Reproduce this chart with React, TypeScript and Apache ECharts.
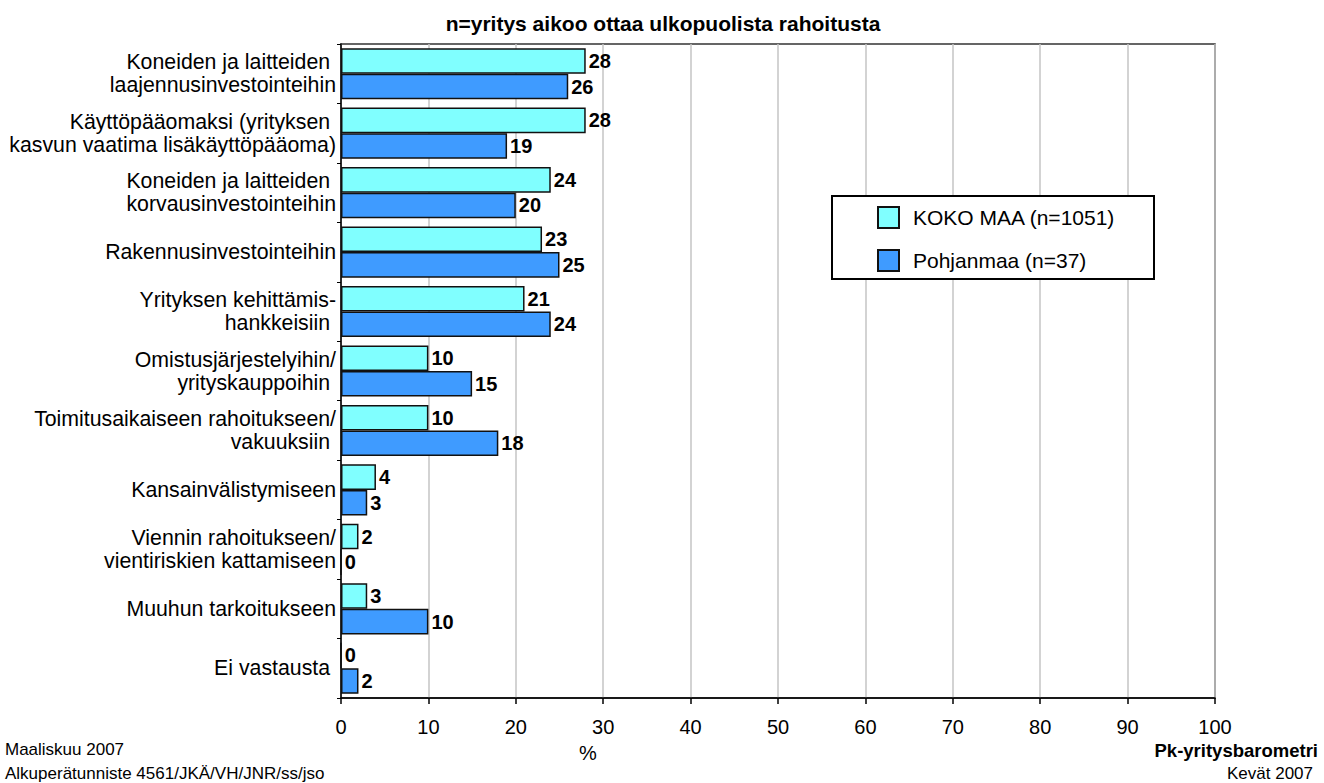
import React, { useEffect, useRef } from "react";
import * as echarts from "echarts";

const categories = [
  "Koneiden ja laitteiden \nlaajennusinvestointeihin",
  "Käyttöpääomaksi (yrityksen \nkasvun vaatima lisäkäyttöpääoma)",
  "Koneiden ja laitteiden \nkorvausinvestointeihin",
  "Rakennusinvestointeihin",
  "Yrityksen kehittämis-\nhankkeisiin ",
  "Omistusjärjestelyihin/\nyrityskauppoihin ",
  "Toimitusaikaiseen rahoitukseen/\nvakuuksiin ",
  "Kansainvälistymiseen",
  "Viennin rahoitukseen/\nvientiriskien kattamiseen",
  "Muuhun tarkoitukseen",
  "Ei vastausta ",
];
const kokoMaa = [28, 28, 24, 23, 21, 10, 10, 4, 2, 3, 0];
const pohjanmaa = [26, 19, 20, 25, 24, 15, 18, 3, 0, 10, 2];
const seriesNames = ["KOKO MAA (n=1051)", "Pohjanmaa (n=37)"];
const xTicks = [0, 10, 20, 30, 40, 50, 60, 70, 80, 90, 100];

const FONT = "Liberation Sans, Arial, sans-serif";

export default function App() {
  const ref = useRef<HTMLDivElement>(null);
  useEffect(() => {
    if (!ref.current) return;
    const chart = echarts.init(ref.current, undefined, { renderer: "svg" });
    const labelStyle = {
      show: true,
      position: "right" as const,
      distance: 3,
      color: "#000",
      fontSize: 20,
      fontWeight: "bold" as const,
      fontFamily: FONT,
    };
    chart.setOption({
      animation: false,
      textStyle: { fontFamily: FONT },
      grid: {
        left: 341,
        right: 109,
        top: 44,
        bottom: 85,
        show: true,
        borderColor: "#333",
        borderWidth: 1.5,
      },
      xAxis: {
        type: "value",
        min: xTicks[0],
        max: xTicks[xTicks.length - 1],
        interval: 10,
        axisLine: { show: true, lineStyle: { color: "#000", width: 1.5 } },
        axisTick: { show: true, length: 6, lineStyle: { color: "#000", width: 1.5 } },
        axisLabel: { color: "#000", fontSize: 20, margin: 19, fontFamily: FONT },
        splitLine: { show: true, lineStyle: { color: "#C4C4C4", width: 1.5 } },
      },
      yAxis: {
        type: "category",
        inverse: true,
        data: categories,
        axisLine: { show: true, lineStyle: { color: "#000", width: 1.5 } },
        axisTick: { show: true, length: 4, lineStyle: { color: "#000" } },
        axisLabel: {
          color: "#000",
          fontSize: 21.3,
          margin: 5,
          lineHeight: 23,
          align: "right",
          fontFamily: FONT,
        },
      },
      legend: {
        orient: "vertical",
        left: 872,
        top: 201,
        z: 10,
        itemWidth: 21,
        itemHeight: 21,
        itemGap: 20,
        icon: "rect",
        textStyle: { color: "#000", fontSize: 21, fontFamily: FONT, padding: [0, 0, 0, 9] },
        data: seriesNames,
      },
      graphic: [
        {
          type: "rect",
          shape: { x: 832, y: 196, width: 322, height: 83 },
          style: { fill: "#fff", stroke: "#000", lineWidth: 2 },
          z: 3,
        },
        {
          type: "text",
          x: 663,
          y: 23,
          style: {
            text: "n=yritys aikoo ottaa ulkopuolista rahoitusta",
            fill: "#000",
            font: `bold 21px ${FONT}`,
            align: "center",
            verticalAlign: "middle",
          },
        },
        {
          type: "text",
          x: 588,
          y: 753,
          style: { text: "%", fill: "#000", font: `20px ${FONT}`, align: "center", verticalAlign: "middle" },
        },
        {
          type: "text",
          x: 5,
          y: 749,
          style: { text: "Maaliskuu 2007", fill: "#000", font: `17px ${FONT}`, verticalAlign: "middle" },
        },
        {
          type: "text",
          x: 5,
          y: 773,
          style: {
            text: "Alkuperätunniste 4561/JKÄ/VH/JNR/ss/jso",
            fill: "#000",
            font: `17px ${FONT}`,
            verticalAlign: "middle",
          },
        },
        {
          type: "text",
          x: 1318,
          y: 750,
          style: {
            text: "Pk-yritysbarometri",
            fill: "#000",
            font: `bold 18.5px ${FONT}`,
            align: "right",
            verticalAlign: "middle",
          },
        },
        {
          type: "text",
          x: 1313,
          y: 773,
          style: { text: "Kevät 2007", fill: "#000", font: `17px ${FONT}`, align: "right", verticalAlign: "middle" },
        },
      ],
      series: [
        {
          name: seriesNames[0],
          type: "bar",
          data: kokoMaa,
          barGap: "0%",
          barCategoryGap: "14%",
          itemStyle: { color: "#80FFFF", borderColor: "#111", borderWidth: 1.5 },
          label: labelStyle,
        },
        {
          name: seriesNames[1],
          type: "bar",
          data: pohjanmaa,
          barGap: "0%",
          barCategoryGap: "14%",
          itemStyle: { color: "#3F9BFF", borderColor: "#111", borderWidth: 1.5 },
          label: labelStyle,
        },
      ],
    });
    return () => chart.dispose();
  }, []);
  return (
    <div
      ref={ref}
      style={{ position: "absolute", left: 0, top: 0, width: 1324, height: 783 }}
    />
  );
}
